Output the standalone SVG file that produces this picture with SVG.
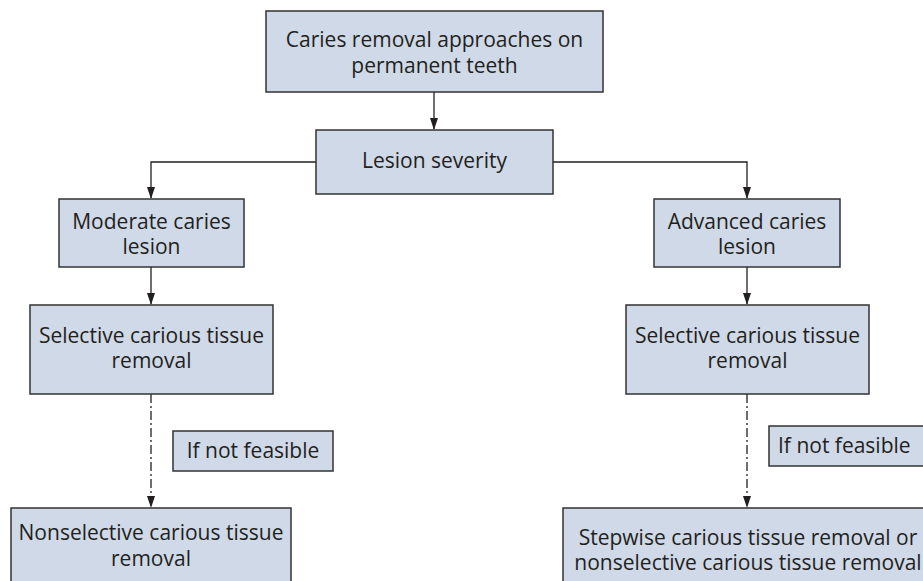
<svg xmlns="http://www.w3.org/2000/svg" width="923" height="581" viewBox="0 0 923 581">
<style>
.box{fill:#cfd9e7;stroke:#333;stroke-width:1.5}
.t{font-family:"Open Sans","Noto Sans",sans-serif;font-size:21px;fill:#231f20;text-anchor:middle}
.c{fill:none;stroke:#231f20;stroke-width:1.3}
.d{stroke-dasharray:9 3 2 3}
</style>
<g id="connectors">
<path class="c" d="M434,92 V129"/>
<path class="c" d="M316,162 H151 V198"/>
<path class="c" d="M553,162 H747 V198"/>
<path class="c" d="M151,267 V304"/>
<path class="c" d="M747,267 V304"/>
<path class="c d" d="M151,394 V507"/>
<path class="c d" d="M747,394 V507"/>
<g id="arrowheads" fill="#231f20">
<path d="M430,118 L438,118 L434,130 Z"/>
<path d="M147,187 L155,187 L151,199 Z"/>
<path d="M743,187 L751,187 L747,199 Z"/>
<path d="M147,293 L155,293 L151,305 Z"/>
<path d="M743,293 L751,293 L747,305 Z"/>
<path d="M147,496 L155,496 L151,508 Z"/>
<path d="M743,496 L751,496 L747,508 Z"/>
</g>
</g>
<g id="n-top"><rect class="box" x="266" y="11" width="337" height="81"/>
<text class="t" x="434.5" y="47">Caries removal approaches on</text><text class="t" x="434.5" y="73">permanent teeth</text></g>
<g id="n-severity"><rect class="box" x="316" y="130" width="237" height="64"/>
<text class="t" x="434.5" y="168">Lesion severity</text></g>
<g id="n-moderate"><rect class="box" x="59" y="199" width="185" height="68"/>
<text class="t" x="151.5" y="229">Moderate caries</text><text class="t" x="151.5" y="254">lesion</text></g>
<g id="n-advanced"><rect class="box" x="654" y="199" width="186" height="68"/>
<text class="t" x="747" y="229">Advanced caries</text><text class="t" x="747" y="254">lesion</text></g>
<g id="n-sel-left"><rect class="box" x="30" y="305" width="243" height="89"/>
<text class="t" x="151.5" y="343">Selective carious tissue</text><text class="t" x="151.5" y="368">removal</text></g>
<g id="n-sel-right"><rect class="box" x="626" y="305" width="243" height="89"/>
<text class="t" x="747.5" y="343">Selective carious tissue</text><text class="t" x="747.5" y="368">removal</text></g>
<g id="n-inf-left"><rect class="box" x="173" y="431" width="160" height="40"/>
<text class="t" x="253" y="458">If not feasible</text></g>
<g id="n-inf-right"><rect class="box" x="769" y="426" width="170" height="40"/>
<text class="t" x="778" y="453" style="text-anchor:start">If not feasible</text></g>
<g id="n-nonsel"><rect class="box" x="11" y="508" width="280" height="80"/>
<text class="t" x="151" y="540">Nonselective carious tissue</text><text class="t" x="151" y="566">removal</text></g>
<g id="n-stepwise"><rect class="box" x="563" y="508" width="370" height="80"/>
<text class="t" x="748" y="545">Stepwise carious tissue removal or</text><text class="t" x="748" y="570">nonselective carious tissue removal</text></g>
</svg>
